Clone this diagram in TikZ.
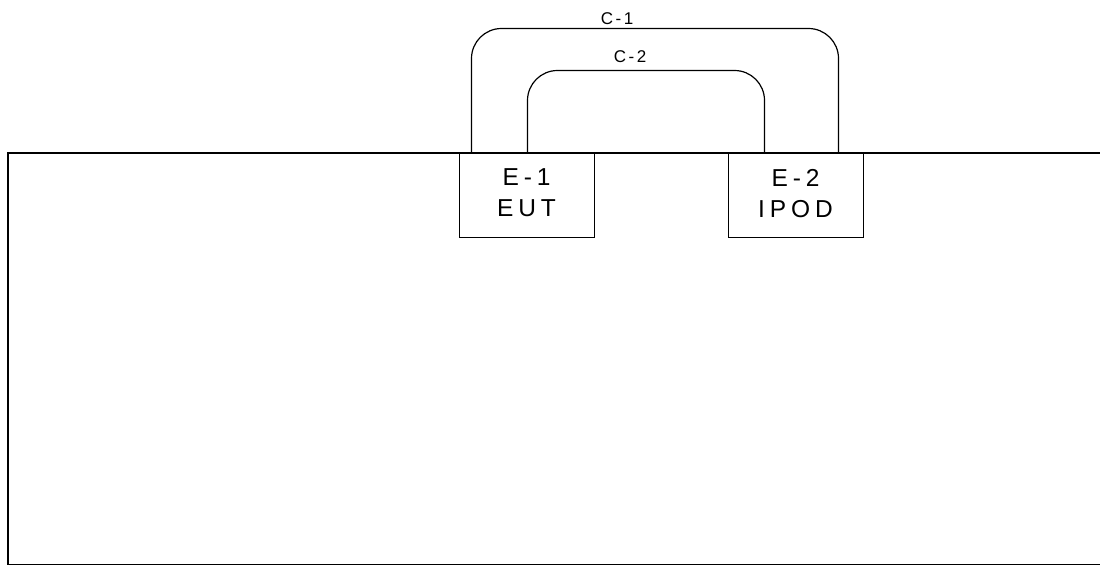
\documentclass[tikz,border=0pt]{standalone}
\usepackage{fontspec}
\setmainfont{Liberation Sans}
\usetikzlibrary{positioning, calc}
\tikzset{
  unit/.style   = {draw=black, line width=1pt, minimum width=135pt,
                   minimum height=84pt, inner sep=0pt, align=center, text depth=4pt,
                   font=\fontsize{24.5}{31}\selectfont\addfontfeatures{LetterSpace=20}},
  cable/.style  = {draw=black, line width=1.2pt, rounded corners=30pt},
  lbl/.style    = {font=\fontsize{17}{18}\selectfont\addfontfeatures{LetterSpace=15}},
}
\begin{document}
\begin{tikzpicture}[x=1pt, y=-1pt]
  \clip (0,0) rectangle (1100,565);

  % table
  \draw[line width=1.3pt] (1110,153) -- (8,153) -- (8,564.5) -- (1110,564.5);

  % units on the table
  \node[unit, fill=white] (eut) at (526.5,195) {E-1\\EUT};
  \node[unit, fill=white] (ipod) at (795.5,195) {E-2\\IPOD};

  % cables
  \draw[cable] ([xshift=13pt]eut.north west) -- ++(0,-124) -| ([xshift=-25pt]ipod.north east);
  \draw[cable] ([xshift=-67pt]eut.north east) -- ++(0,-82) -| ([xshift=37pt]ipod.north west);
  \node[lbl] (cone) at (617,19) {C-1};
  \node[lbl] (ctwo) at (630,57) {C-2};

\end{tikzpicture}
\end{document}
